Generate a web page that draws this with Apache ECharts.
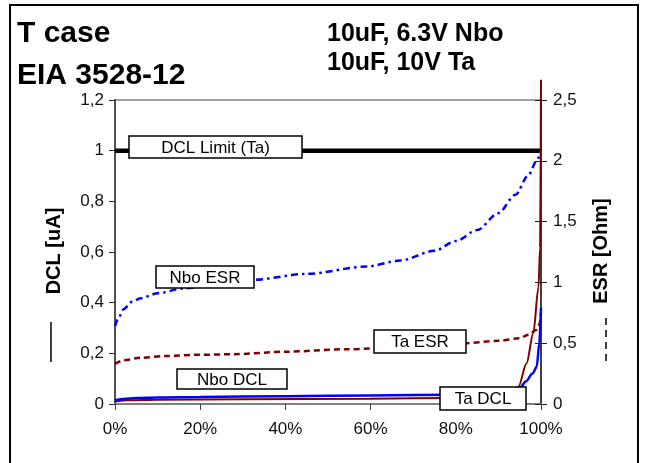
<!DOCTYPE html>
<html>
<head>
<meta charset="utf-8">
<script src="https://cdn.jsdelivr.net/npm/echarts@6/dist/echarts.min.js"></script>
<style>
html,body{margin:0;padding:0;background:#fff;}
#c{width:647px;height:463px;}
</style>
</head>
<body>
<div id="c"></div>
<script>
// ---- data (x = percent of parts, y = value) ----
const limitX = [0, 100];
const limitY = [1, 1];

const nboEsrX = [0, 1, 2, 4, 6, 10, 16, 25, 32, 45, 59, 67, 75, 80, 85, 90, 94, 97, 99, 100];
const nboEsrY = [0.64, 0.72, 0.78, 0.84, 0.87, 0.91, 0.95, 0.99, 1.02, 1.07, 1.13, 1.18, 1.26, 1.34, 1.43, 1.57, 1.72, 1.88, 2.0, 2.09];

const taEsrX = [0, 2, 6, 12, 20, 28, 40, 54, 70, 82, 90, 95, 97, 99, 99.7, 100];
const taEsrY = [0.33, 0.36, 0.38, 0.395, 0.405, 0.41, 0.43, 0.45, 0.47, 0.50, 0.52, 0.54, 0.57, 0.61, 0.66, 0.75];

const nboDclX = [0, 2, 5, 10, 20, 40, 60, 80, 90, 93, 95, 96.5, 98, 99, 99.6, 100];
const nboDclY = [0.015, 0.02, 0.024, 0.026, 0.028, 0.031, 0.034, 0.037, 0.04, 0.045, 0.062, 0.09, 0.12, 0.147, 0.24, 0.38];

const taDclX = [0, 3, 10, 30, 60, 80, 90, 93, 94.7, 96.6, 98.2, 99.4, 99.8, 100];
const taDclY = [0.01, 0.015, 0.017, 0.019, 0.021, 0.024, 0.03, 0.045, 0.068, 0.16, 0.28, 0.46, 0.62, 1.28];

const xTickLabels = ['0%', '20%', '40%', '60%', '80%', '100%'];

const pairs = (xs, ys) => xs.map((x, i) => [x, ys[i]]);
const comma = v => String(+v.toFixed(2)).replace('.', ',');

const FONT = '"Liberation Sans", Arial, sans-serif';

function labelBox(x, y, w, h, text) {
  return [
    { type: 'rect', z: 100, zlevel: 1, shape: { x: x, y: y, width: w, height: h },
      style: { fill: '#fff', stroke: '#000', lineWidth: 1.5 } },
    { type: 'text', z: 101, zlevel: 1, x: x + w / 2, y: y + h / 2 + 1,
      style: { text: text, fill: '#000', font: '17px ' + FONT, align: 'center', verticalAlign: 'middle' } }
  ];
}

const chart = echarts.init(document.getElementById('c'), null, { renderer: 'canvas' });

const option = {
  backgroundColor: '#fff',
  animation: false,
  grid: { left: 115, right: 106, top: 100, bottom: 59, show: true, borderColor: '#a0a0a0', borderWidth: 2, backgroundColor: 'transparent' },
  xAxis: {
    type: 'value', min: 0, max: 100, interval: 20,
    axisLine: { show: true, onZero: false, lineStyle: { color: '#808080', width: 2 } },
    axisTick: { show: true, length: 6, lineStyle: { color: '#404040', width: 1 } },
    axisLabel: { color: '#111', fontFamily: FONT, fontSize: 17, margin: 17,
      formatter: v => xTickLabels[Math.round(v / 20)] },
    splitLine: { show: false }
  },
  yAxis: [
    {
      type: 'value', min: 0, max: 1.2, interval: 0.2, position: 'left',
      axisLine: { show: true, lineStyle: { color: '#505050', width: 2 } },
      axisTick: { show: true, length: 6, lineStyle: { color: '#303030', width: 1 } },
      axisLabel: { color: '#111', fontFamily: FONT, fontSize: 17, margin: 11, formatter: comma },
      splitLine: { show: false }
    },
    {
      type: 'value', min: 0, max: 2.5, interval: 0.5, position: 'right',
      axisLine: { show: true, lineStyle: { color: '#202020', width: 1.5 } },
      axisTick: { show: true, length: 6, lineStyle: { color: '#202020', width: 1 } },
      axisLabel: { color: '#111', fontFamily: FONT, fontSize: 17, margin: 12, formatter: comma },
      splitLine: { show: false }
    },
    {
      type: 'value', min: 0, max: 2.5, interval: 0.5, position: 'right',
      axisLine: { show: false },
      axisTick: { show: true, inside: true, length: 6, lineStyle: { color: '#202020', width: 1 } },
      axisLabel: { show: false },
      splitLine: { show: false }
    }
  ],
  series: [
    { name: 'DCL Limit (Ta)', type: 'line', yAxisIndex: 0, data: pairs(limitX, limitY),
      symbol: 'none', lineStyle: { color: '#000', width: 4.5 }, z: 3 },
    { name: 'Nbo ESR', type: 'line', yAxisIndex: 1, data: pairs(nboEsrX, nboEsrY),
      symbol: 'none', smooth: 0.3, smoothMonotone: 'x',
      lineStyle: { color: '#0000ff', width: 2.5, type: [7, 4, 2.5, 4] }, z: 4 },
    { name: 'Ta ESR', type: 'line', yAxisIndex: 1, data: pairs(taEsrX, taEsrY),
      symbol: 'none', smooth: 0.3, smoothMonotone: 'x',
      lineStyle: { color: '#800000', width: 2.5, type: [6, 4] }, z: 4 },
    { name: 'Ta DCL', type: 'line', yAxisIndex: 0, data: pairs(taDclX, taDclY),
      symbol: 'none', smooth: 0.3, smoothMonotone: 'x', clip: false,
      lineStyle: { color: '#800000', width: 2 }, z: 5 },
    { name: 'Nbo DCL', type: 'line', yAxisIndex: 0, data: pairs(nboDclX, nboDclY),
      symbol: 'none', smooth: 0.3, smoothMonotone: 'x',
      lineStyle: { color: '#0000ff', width: 2.5 }, z: 6 }
  ],
  graphic: [
    { type: 'rect', z: 50, shape: { x: 10, y: 5, width: 628, height: 470 },
      style: { fill: 'none', stroke: '#000', lineWidth: 2 } },
    { type: 'text', x: 17, y: 19, z: 60,
      style: { text: 'T case', fill: '#000', font: 'bold 30px ' + FONT } },
    { type: 'text', x: 17, y: 61, z: 60,
      style: { text: 'EIA 3528-12', fill: '#000', font: 'bold 30px ' + FONT } },
    { type: 'text', x: 327, y: 22, z: 60,
      style: { text: '10uF, 6.3V Nbo', fill: '#000', font: 'bold 25px ' + FONT } },
    { type: 'text', x: 327, y: 51, z: 60,
      style: { text: '10uF, 10V Ta', fill: '#000', font: 'bold 25px ' + FONT } },
    // axis names
    { type: 'text', x: 54, y: 251, rotation: Math.PI / 2, z: 60,
      style: { text: 'DCL [uA]', fill: '#000', font: 'bold 20px ' + FONT, align: 'center', verticalAlign: 'middle' } },
    { type: 'line', z: 60, shape: { x1: 51, y1: 322, x2: 51, y2: 362 },
      style: { stroke: '#000', lineWidth: 1.5 } },
    { type: 'text', x: 601, y: 251, rotation: Math.PI / 2, z: 60,
      style: { text: 'ESR [Ohm]', fill: '#000', font: 'bold 20px ' + FONT, align: 'center', verticalAlign: 'middle' } },
    { type: 'line', z: 60, shape: { x1: 606, y1: 318, x2: 606, y2: 366 },
      style: { stroke: '#000', lineWidth: 1.5, lineDash: [7, 5] } }
  ].concat(
    labelBox(129, 136, 173, 22, 'DCL Limit (Ta)'),
    labelBox(156, 266, 98, 22, 'Nbo ESR'),
    labelBox(177, 369, 110, 20, 'Nbo DCL'),
    labelBox(374, 330, 92, 23, 'Ta ESR'),
    labelBox(440, 387, 86, 23, 'Ta DCL')
  )
};
chart.setOption(option);
</script>
</body>
</html>
